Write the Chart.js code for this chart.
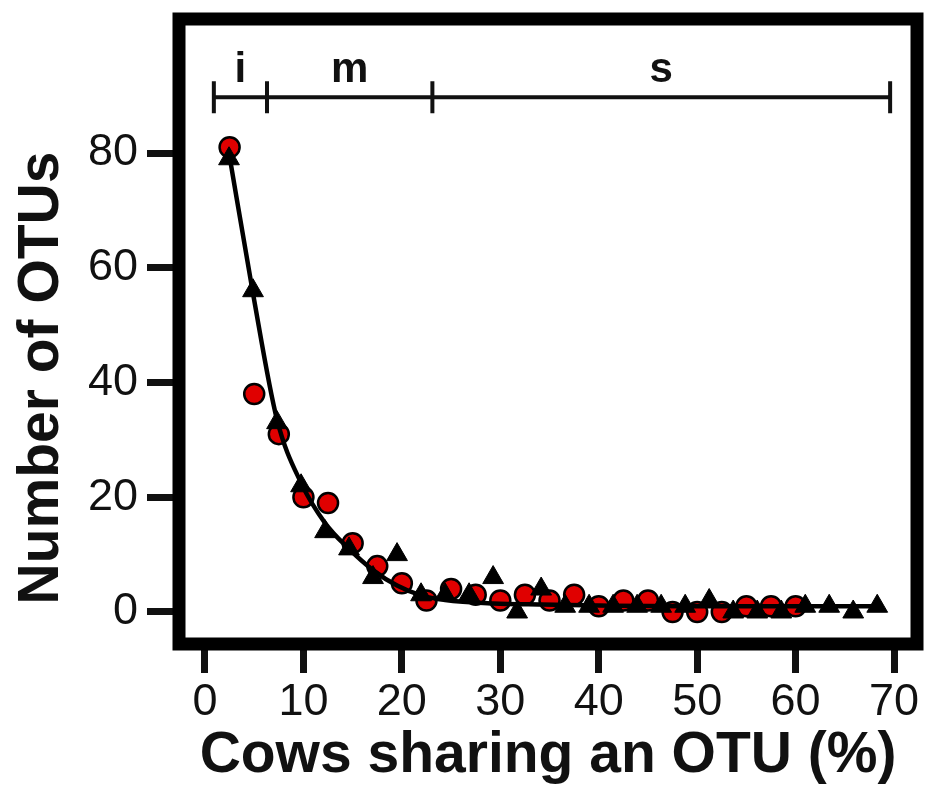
<!DOCTYPE html>
<html>
<head>
<meta charset="utf-8">
<script src="https://cdn.jsdelivr.net/npm/chart.js@4.4.0/dist/chart.umd.min.js"></script>
<style>
html,body{margin:0;padding:0;background:#fff;}
canvas{display:block;}
</style>
</head>
<body>
<canvas id="c" width="930" height="787"></canvas>
<script>
// ---- data ----
const circleX = [2.5, 5, 7.5, 10, 12.5, 15, 17.5, 20, 22.5, 25, 27.5, 30, 32.5, 35, 37.5, 40, 42.5, 45, 47.5, 50, 52.5, 55, 57.5, 60];
const circleY = [81, 38, 31, 20, 19, 12, 8, 5, 2, 4, 3, 2, 3, 2, 3, 1, 2, 2, 0, 0, 0, 1, 1, 1];

const triangleX = [2.44, 4.88, 7.32, 9.76, 12.2, 14.63, 17.07, 19.51, 21.95, 24.39, 26.83, 29.27, 31.71, 34.15, 36.59, 39.02, 41.46, 43.9, 46.34, 48.78, 51.22, 53.66, 56.1, 58.54, 60.98, 63.41, 65.85, 68.29];
const triangleY = [79, 56, 33, 22, 14, 11, 6, 10, 3, 3, 3, 6, 0, 4, 1, 1, 1, 1, 1, 1, 2, 0, 0, 0, 1, 1, 0, 1];

const fitX = [2.44, 4.88, 7.32, 9.76, 12.2, 14.63, 17.07, 19.51, 21.95, 24.39, 29.27, 34.15, 41.46, 48.78, 58.54, 68.29];
const fitY = [80, 55.5, 33.5, 22.5, 15.5, 11, 7.3, 4.6, 2.9, 2.1, 1.5, 1.3, 1.1, 1, 1, 1];

const xTicks = [0, 10, 20, 30, 40, 50, 60, 70];
const yTicks = [0, 20, 40, 60, 80];

const rangeBounds = [0.9, 6.3, 23.1, 69.6];
const rangeLabels = ['i', 'm', 's'];
const rangeBarY = 89.7;

const xTitle = 'Cows sharing an OTU (%)';
const yTitle = 'Number of OTUs';

// axis extents (frame edges)
const xMin = -2.64, xMax = 72.33;
const yMin = -5.58, yMax = 103.36;

const FONT = "'Liberation Sans', Arial, Helvetica, sans-serif";

const toPts = (xs, ys) => xs.map((x, i) => ({x: x, y: ys[i]}));

const zeroPad = s => { s.paddingTop = 0; s.paddingBottom = 0; s.paddingLeft = 0; s.paddingRight = 0; };

const framePlugin = {
  id: 'frame',
  afterDatasetsDraw(chart) {
    const {ctx, chartArea: a, scales} = chart;
    const xs = scales.x, ys = scales.y;
    ctx.save();
    // frame
    ctx.strokeStyle = '#000';
    ctx.lineWidth = 13;
    ctx.strokeRect(a.left, a.top, a.right - a.left, a.bottom - a.top);
    // range bar i / m / s
    const by = ys.getPixelForValue(rangeBarY);
    ctx.lineWidth = 4;
    ctx.strokeStyle = '#111';
    ctx.beginPath();
    ctx.moveTo(xs.getPixelForValue(rangeBounds[0]), by);
    ctx.lineTo(xs.getPixelForValue(rangeBounds[rangeBounds.length - 1]), by);
    rangeBounds.forEach(v => {
      const px = xs.getPixelForValue(v);
      ctx.moveTo(px, by - 16);
      ctx.lineTo(px, by + 16);
    });
    ctx.stroke();
    ctx.fillStyle = '#111';
    ctx.font = 'bold 42px ' + FONT;
    ctx.textAlign = 'center';
    ctx.textBaseline = 'alphabetic';
    rangeLabels.forEach((t, i) => {
      const px = (xs.getPixelForValue(rangeBounds[i]) + xs.getPixelForValue(rangeBounds[i + 1])) / 2;
      ctx.fillText(t, px, by - 15);
    });
    // axis titles
    ctx.font = 'bold 57px ' + FONT;
    ctx.textBaseline = 'middle';
    ctx.fillText(xTitle, (a.left + a.right) / 2, 756);
    ctx.translate(42, 378);
    ctx.rotate(-Math.PI / 2);
    ctx.fillText(yTitle, 0, 0);
    ctx.restore();
  }
};

new Chart(document.getElementById('c'), {
  type: 'scatter',
  data: {
    datasets: [
      {
        label: 'triangles',
        data: toPts(triangleX, triangleY),
        pointStyle: 'triangle',
        pointRadius: 12,
        backgroundColor: '#000',
        borderColor: '#000',
        borderWidth: 1,
        order: 0
      },
      {
        label: 'fit',
        data: toPts(fitX, fitY),
        showLine: true,
        pointRadius: 0,
        borderColor: '#000',
        borderWidth: 4.5,
        cubicInterpolationMode: 'monotone',
        fill: false,
        order: 1
      },
      {
        label: 'circles',
        data: toPts(circleX, circleY),
        pointStyle: 'circle',
        pointRadius: 10,
        backgroundColor: '#e00000',
        borderColor: '#000',
        borderWidth: 2.5,
        order: 2
      }
    ]
  },
  options: {
    responsive: false,
    animation: false,
    devicePixelRatio: 1,
    layout: {padding: {top: 19, right: 12, left: 0, bottom: 0}},
    plugins: {legend: {display: false}, tooltip: {enabled: false}},
    scales: {
      x: {
        type: 'linear',
        min: xMin, max: xMax,
        afterFit(s) { s.height = 143; zeroPad(s); },
        afterBuildTicks(s) { s.ticks = xTicks.map(v => ({value: v})); },
        grid: {drawOnChartArea: false, drawTicks: true, tickLength: 29, tickWidth: 7, tickColor: '#111'},
        border: {display: false},
        ticks: {font: {family: FONT, size: 45}, color: '#111', padding: 3, maxRotation: 0, autoSkip: false}
      },
      y: {
        type: 'linear',
        min: yMin, max: yMax,
        afterFit(s) { s.width = 179; zeroPad(s); },
        afterBuildTicks(s) { s.ticks = yTicks.map(v => ({value: v})); },
        grid: {drawOnChartArea: false, drawTicks: true, tickLength: 32, tickWidth: 7, tickColor: '#111'},
        border: {display: false},
        ticks: {font: {family: FONT, size: 45}, color: '#111', padding: 9, autoSkip: false}
      }
    }
  },
  plugins: [framePlugin]
});
</script>
</body>
</html>
